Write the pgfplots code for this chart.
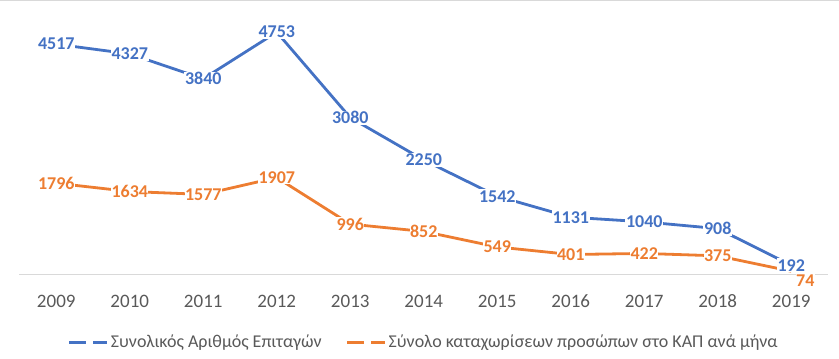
\documentclass[border=0pt]{standalone}
\usepackage{pgfplots}
\pgfplotsset{compat=1.18}
\usepackage{pgfplotstable}
\usepackage{fontspec}
\setmainfont{Carlito}
\definecolor{cblue}{HTML}{4472C4}
\definecolor{corange}{HTML}{ED7D31}
\definecolor{tickgray}{HTML}{595959}
\definecolor{axgray}{HTML}{D9D9D9}
\pgfplotsset{/pgf/number format/assume math mode=true, /pgf/number format/1000 sep={}}

\pgfplotstableread{
year val
2009 4517
2010 4327
2011 3840
2012 4753
2013 3080
2014 2250
2015 1542
2016 1131
2017 1040
2018 908
2019 192
}\bluedata

\pgfplotstableread{
year val dx dy
2009 1796 0 0
2010 1634 0 0
2011 1577 0 0
2012 1907 0 0
2013 996 0 0
2014 852 0 0
2015 549 0 0
2016 401 0 0
2017 422 0 0
2018 375 0 0
2019 74 14 -9
}\orangedata

\begin{document}
\begin{tikzpicture}
\useasboundingbox (0pt,0pt) rectangle (839pt,359pt);
\draw[axgray, line width=1pt] (0pt,358.5pt) -- (839pt,358.5pt);
\begin{axis}[
  at={(19.5pt,84pt)}, anchor=south west,
  scale only axis, width=808.5pt, height=255.5pt,
  xmin=2008.5, xmax=2019.5, ymin=0, ymax=5000,
  axis x line=bottom, axis y line=none,
  x axis line style={-, draw=axgray, line width=1pt},
  xtick={2009,2010,2011,2012,2013,2014,2015,2016,2017,2018,2019},
  major tick length=0pt,
  xticklabel style={anchor=base, yshift=-32pt, font=\fontsize{19}{19}\selectfont, text=tickgray},
  clip=false,
  legend style={at={(0.5,0)}, anchor=center, yshift=-67pt, draw=none, fill=none,
    font=\fontsize{18}{18}\selectfont, text=tickgray,
    legend columns=2, /tikz/every even column/.append style={column sep=22pt}},
  legend image code/.code={\draw[#1, line width=3pt, dash pattern=on 17pt off 7pt] (0pt,0pt) -- (38pt,0pt);},
]
\addplot[cblue, line width=2.8pt, forget plot] table[x=year,y=val]{\bluedata};
\addplot[corange, line width=2.8pt, forget plot] table[x=year,y=val]{\orangedata};
\addplot[draw=none, forget plot, nodes near coords,
  every node near coord/.append style={anchor=center, fill=white, inner sep=0.8pt, text=cblue, font=\bfseries\fontsize{18}{18}\selectfont}]
  table[x=year,y=val]{\bluedata};
\addplot[draw=none, forget plot, nodes near coords,
  visualization depends on={\thisrow{dx}\as\dx},
  visualization depends on={\thisrow{dy}\as\dy},
  every node near coord/.append style={anchor=center, fill=white, inner sep=0.5pt, text=corange, font=\bfseries\fontsize{18}{18}\selectfont, xshift=\dx pt, yshift=\dy pt}]
  table[x=year,y=val]{\orangedata};
\addlegendimage{cblue}
\addlegendentry{Συνολικός Αριθμός Επιταγών}
\addlegendimage{corange}
\addlegendentry{Σύνολο καταχωρίσεων προσώπων στο ΚΑΠ ανά μήνα}
\end{axis}
\end{tikzpicture}
\end{document}
